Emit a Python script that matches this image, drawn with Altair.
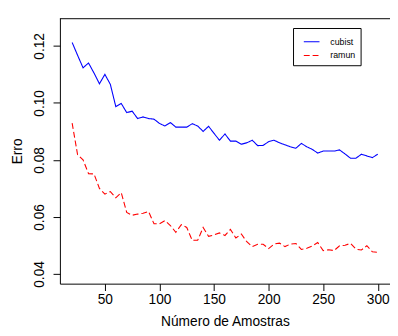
import altair as alt
import pandas as pd

amostras = list(range(20, 301, 5))
cubist = [0.1212, 0.1167, 0.1123, 0.1140, 0.1105, 0.1067, 0.1100, 0.1065, 0.0987, 0.0998,
          0.0966, 0.0971, 0.0945, 0.0951, 0.0945, 0.0943, 0.0928, 0.0919, 0.0931, 0.0915,
          0.0915, 0.0915, 0.0927, 0.0919, 0.0900, 0.0918, 0.0893, 0.0869, 0.0891, 0.0866,
          0.0866, 0.0855, 0.0860, 0.0869, 0.0850, 0.0851, 0.0864, 0.0869, 0.0860, 0.0853,
          0.0846, 0.0841, 0.0858, 0.0846, 0.0837, 0.0824, 0.0831, 0.0831, 0.0831, 0.0835,
          0.0821, 0.0806, 0.0806, 0.0820, 0.0814, 0.0808, 0.0820]
ramun = [0.0929, 0.0818, 0.0800, 0.0752, 0.0751, 0.0700, 0.0680, 0.0689, 0.0667, 0.0685,
         0.0616, 0.0606, 0.0610, 0.0613, 0.0619, 0.0576, 0.0576, 0.0587, 0.0570, 0.0546,
         0.0573, 0.0563, 0.0518, 0.0518, 0.0563, 0.0532, 0.0537, 0.0544, 0.0535, 0.0556,
         0.0526, 0.0540, 0.0513, 0.0496, 0.0504, 0.0504, 0.0489, 0.0505, 0.0508, 0.0496,
         0.0505, 0.0507, 0.0486, 0.0490, 0.0498, 0.0510, 0.0482, 0.0485, 0.0482, 0.0499,
         0.0501, 0.0507, 0.0487, 0.0484, 0.0499, 0.0478, 0.0476]
series = ["cubist", "ramun"]
x_ticks = [50, 100, 150, 200, 250, 300]
y_ticks = [0.04, 0.06, 0.08, 0.10, 0.12]

df = pd.DataFrame({
    "x": amostras * 2,
    "y": cubist + ramun,
    "s": ["cubist"] * len(amostras) + ["ramun"] * len(amostras),
})
frame = pd.DataFrame({"edge": ["top"]})

FONT = "Liberation Sans"
W, H = 337, 271

leg = dict(title=None, orient="none", legendX=238, legendY=10, strokeColor="black",
           fillColor="white", padding=5, symbolType="stroke", symbolSize=256,
           symbolStrokeWidth=1.1, symbolOffset=5, labelFontSize=9, labelFont=FONT,
           labelColor="black", rowPadding=-10, labelOffset=10, cornerRadius=0)

lines = alt.Chart(df).mark_line(strokeWidth=1.1).encode(
    x=alt.X("x:Q", scale=alt.Scale(domain=[8.8, 311.2], nice=False, zero=False),
            axis=alt.Axis(title="Número de Amostras", values=x_ticks, grid=False,
                          tickSize=7, labelPadding=2, labelFlush=False,
                          titleY=39, titleBaseline="middle")),
    y=alt.Y("y:Q", scale=alt.Scale(domain=[0.0366, 0.1297], nice=False, zero=False),
            axis=alt.Axis(title="Erro", values=y_ticks, format=".2f", grid=False,
                          tickSize=7, labelAngle=270, labelAlign="center",
                          labelBaseline="middle", labelPadding=14,
                          titleAngle=270, titleX=-43, titleY=H / 2,
                          titleAlign="center", titleBaseline="middle")),
    color=alt.Color("s:N", scale=alt.Scale(domain=series, range=["#0000FF", "#FF0000"]),
                    legend=alt.Legend(**leg)),
    strokeDash=alt.StrokeDash("s:N", scale=alt.Scale(domain=series, range=[[1, 0], [6, 3]]),
                              legend=alt.Legend(**leg)),
)

top = alt.Chart(frame).mark_rule(color="black", strokeWidth=1).encode(
    y=alt.value(0.5), x=alt.value(0), x2=alt.value(W))

chart = alt.layer(lines, top).properties(
    width=W, height=H,
    autosize=alt.AutoSizeParams(type="none"),
    padding={"left": 53, "top": 7, "right": 0, "bottom": 50},
).configure_view(stroke=None).configure_axis(
    domainColor="black", tickColor="black", labelColor="black", titleColor="black",
    labelFont=FONT, titleFont=FONT, labelFontSize=14, titleFontSize=14,
    titleFontWeight="normal", domainWidth=1, tickWidth=1,
)

chart.save("out.html", embed_options={"renderer": "svg", "actions": False})
